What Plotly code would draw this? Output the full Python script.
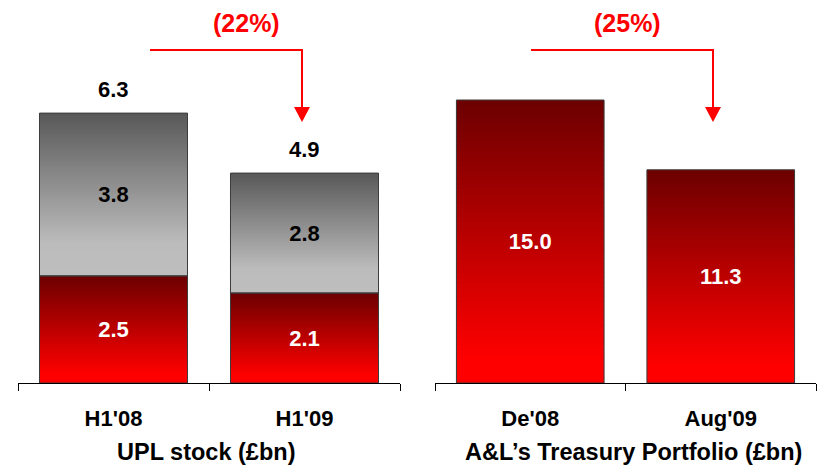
import plotly.graph_objects as go

# ---- data -------------------------------------------------------------
upl_periods = ["H1'08", "H1'09"]
upl_red = [2.5, 2.1]          # lower (red) part of the UPL stock
upl_grey = [3.8, 2.8]         # upper (grey) part of the UPL stock
upl_total = [6.3, 4.9]
upl_change = "(22%)"

tp_periods = ["De'08", "Aug'09"]
tp_values = [15.0, 11.3]
tp_change = "(25%)"

# ---- styling helpers ---------------------------------------------------
FONT = "Liberation Sans, Arial, sans-serif"
N_SLICES = 60


def hex_to_rgb(h):
    h = h.lstrip("#")
    return tuple(int(h[i:i + 2], 16) for i in (0, 2, 4))


def ramp(stops, t):
    """Piecewise-linear colour ramp; t=0 bottom of bar, t=1 top."""
    for (t0, c0), (t1, c1) in zip(stops, stops[1:]):
        if t <= t1:
            f = 0 if t1 == t0 else (t - t0) / (t1 - t0)
            a, b = hex_to_rgb(c0), hex_to_rgb(c1)
            return "rgb(%d,%d,%d)" % tuple(round(a[k] + (b[k] - a[k]) * f) for k in range(3))
    return "rgb(%d,%d,%d)" % hex_to_rgb(stops[-1][1])


RED_STOPS = [(0.0, "#ff0000"), (0.08, "#ff0000"), (1.0, "#6c0000")]
GREY_STOPS = [(0.0, "#bebebe"), (0.2, "#bcbcbc"), (1.0, "#585858")]


def gradient_bars(fig, cats, vals, bases, stops, xa, ya):
    """Fill each bar with a vertical colour gradient made of thin slices."""
    for i in range(N_SLICES):
        t = (i + 0.5) / N_SLICES
        lo = [b + v * i / N_SLICES for v, b in zip(vals, bases)]
        hi = [b + v * min(i + 1.6, N_SLICES) / N_SLICES for v, b in zip(vals, bases)]
        fig.add_trace(go.Bar(
            x=cats, y=[h - l for h, l in zip(hi, lo)], base=lo,
            marker=dict(color=ramp(stops, t), line=dict(width=0)),
            xaxis=xa, yaxis=ya, hoverinfo="skip", showlegend=False,
        ))


def outline_bars(fig, cats, vals, bases, text_color, xa, ya):
    fig.add_trace(go.Bar(
        x=cats, y=vals, base=bases,
        marker=dict(color="rgba(0,0,0,0)", line=dict(color="#3c3c3c", width=1)),
        text=["%.1f" % v for v in vals], textposition="inside",
        insidetextanchor="middle", constraintext="none",
        textfont=dict(family=FONT, size=22, color=text_color, weight="bold"),
        xaxis=xa, yaxis=ya, hoverinfo="skip", showlegend=False,
    ))


fig = go.Figure()

# left panel: stacked UPL stock
gradient_bars(fig, upl_periods, upl_red, [0, 0], RED_STOPS, "x", "y")
gradient_bars(fig, upl_periods, upl_grey, upl_red, GREY_STOPS, "x", "y")
outline_bars(fig, upl_periods, upl_red, [0, 0], "white", "x", "y")
outline_bars(fig, upl_periods, upl_grey, upl_red, "black", "x", "y")

# totals above the stacked bars
for cat, tot in zip(upl_periods, upl_total):
    fig.add_annotation(
        x=cat, y=tot, xref="x", yref="y", text="%.1f" % tot,
        showarrow=False, yanchor="middle", yshift=24,
        font=dict(family=FONT, size=22, color="black", weight="bold"),
    )

# right panel: treasury portfolio
gradient_bars(fig, tp_periods, tp_values, [0, 0], RED_STOPS, "x2", "y2")
outline_bars(fig, tp_periods, tp_values, [0, 0], "white", "x2", "y2")

# ---- axes ---------------------------------------------------------------
axis_common = dict(
    showline=True, linecolor="black", linewidth=1,
    ticks="outside", tickson="boundaries", ticklen=7, tickcolor="black", tickwidth=1,
    showgrid=False, zeroline=False, range=[-0.5, 1.5],
    tickfont=dict(family=FONT, size=22, color="black", weight="bold"),
    ticklabelstandoff=16, fixedrange=True,
)
y_domain = [1 - 383 / 467, 1]

fig.update_layout(
    width=821, height=467,
    margin=dict(l=0, r=0, t=0, b=0),
    paper_bgcolor="white", plot_bgcolor="white",
    barmode="overlay", bargap=0.225,
    xaxis=dict(domain=[18 / 821, 400 / 821], anchor="y", **axis_common),
    xaxis2=dict(domain=[435 / 821, 816 / 821], anchor="y2", **axis_common),
    yaxis=dict(domain=y_domain, range=[0, 8.94], visible=False, fixedrange=True),
    yaxis2=dict(domain=y_domain, range=[0, 20.3], visible=False, fixedrange=True),
    showlegend=False,
)

# ---- panel titles and change annotations --------------------------------
def py(px):
    return 1 - px / 467


def pxx(px):
    return px / 821


for label, cx in (("UPL stock (£bn)", 206), ("A&L’s Treasury Portfolio (£bn)", 633)):
    fig.add_annotation(
        text=label, x=pxx(cx), y=py(452), xref="paper", yref="paper",
        showarrow=False, xanchor="center", yanchor="middle",
        font=dict(family=FONT, size=23.5, color="black", weight="bold"),
    )

RED = "#ff0000"
for label, lx, x0, x1 in ((upl_change, 246, 150, 302), (tp_change, 627, 531, 713)):
    fig.add_annotation(
        text=label, x=pxx(lx), y=py(23), xref="paper", yref="paper",
        showarrow=False, xanchor="center", yanchor="middle",
        font=dict(family=FONT, size=25, color=RED, weight="bold"),
    )
    fig.add_shape(
        type="path", xref="paper", yref="paper",
        path="M %f,%f L %f,%f L %f,%f" % (pxx(x0), py(50), pxx(x1), py(50), pxx(x1), py(108)),
        line=dict(color=RED, width=2),
    )
    fig.add_shape(
        type="path", xref="paper", yref="paper",
        path="M %f,%f L %f,%f L %f,%f Z" % (pxx(x1 - 8), py(107), pxx(x1 + 8), py(107), pxx(x1), py(122)),
        line=dict(color=RED, width=0), fillcolor=RED,
    )

fig.write_html("out.html")
